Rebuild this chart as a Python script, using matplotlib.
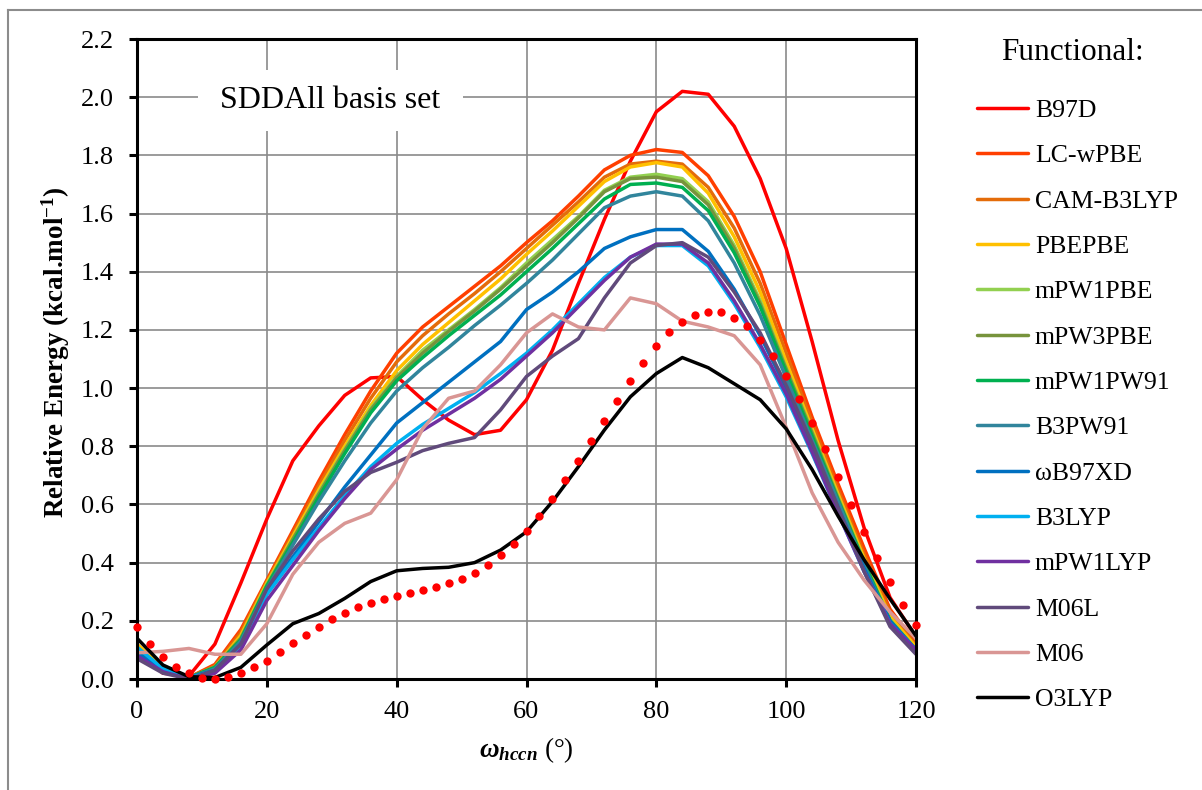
import matplotlib
matplotlib.use("Agg")
import matplotlib.pyplot as plt
from matplotlib.lines import Line2D
from matplotlib.patches import Rectangle
from matplotlib.ticker import MultipleLocator, FormatStrFormatter

plt.rcParams['font.family'] = ['Liberation Serif', 'DejaVu Serif']
plt.rcParams['mathtext.fontset'] = 'custom'
plt.rcParams['mathtext.rm'] = 'Liberation Serif:bold'
plt.rcParams['mathtext.it'] = 'Liberation Serif:italic:bold'
plt.rcParams['mathtext.bf'] = 'Liberation Serif:bold'

# dihedral angle (deg) for the functional curves
angles = list(range(0, 121, 4))
# angle grid of the dotted reference curve
ref_angles = list(range(0, 121, 2))

B97D = [0.09, 0.02, 0.01, 0.12, 0.33, 0.55, 0.75, 0.87, 0.975, 1.035, 1.04, 0.96, 0.89, 0.84, 0.855, 0.96,
        1.13, 1.36, 1.58, 1.78, 1.95, 2.02, 2.01, 1.90, 1.72, 1.48, 1.16, 0.82, 0.52, 0.28, 0.145]
LC_wPBE = [0.10, 0.03, 0.005, 0.05, 0.17, 0.34, 0.51, 0.68, 0.84, 0.99, 1.12, 1.21, 1.28, 1.35, 1.42, 1.50,
           1.575, 1.66, 1.75, 1.80, 1.82, 1.81, 1.73, 1.59, 1.40, 1.15, 0.90, 0.67, 0.45, 0.24, 0.12]
CAM_B3LYP = [0.10, 0.03, 0.005, 0.045, 0.16, 0.335, 0.50, 0.665, 0.82, 0.965, 1.09, 1.18, 1.255, 1.325, 1.40, 1.48,
             1.56, 1.64, 1.725, 1.77, 1.78, 1.77, 1.69, 1.55, 1.36, 1.12, 0.88, 0.65, 0.43, 0.23, 0.115]
PBEPBE = [0.12, 0.04, 0.005, 0.04, 0.15, 0.33, 0.49, 0.65, 0.80, 0.94, 1.06, 1.15, 1.225, 1.30, 1.375, 1.46,
          1.54, 1.625, 1.71, 1.76, 1.775, 1.76, 1.67, 1.52, 1.33, 1.09, 0.86, 0.635, 0.415, 0.215, 0.11]
mPW1PBE = [0.10, 0.035, 0.005, 0.04, 0.14, 0.325, 0.48, 0.64, 0.79, 0.93, 1.04, 1.13, 1.20, 1.27, 1.345, 1.43,
           1.51, 1.59, 1.68, 1.725, 1.735, 1.72, 1.64, 1.49, 1.30, 1.07, 0.85, 0.625, 0.405, 0.205, 0.10]
mPW3PBE = [0.10, 0.035, 0.005, 0.04, 0.14, 0.32, 0.48, 0.635, 0.785, 0.925, 1.035, 1.12, 1.195, 1.265, 1.34, 1.42,
           1.50, 1.585, 1.675, 1.72, 1.725, 1.71, 1.63, 1.48, 1.29, 1.065, 0.845, 0.62, 0.40, 0.20, 0.10]
mPW1PW91 = [0.10, 0.035, 0.005, 0.04, 0.135, 0.32, 0.47, 0.625, 0.775, 0.915, 1.025, 1.105, 1.18, 1.25, 1.32, 1.40,
            1.48, 1.565, 1.65, 1.70, 1.705, 1.69, 1.61, 1.465, 1.28, 1.055, 0.835, 0.615, 0.40, 0.20, 0.10]
B3PW91 = [0.10, 0.035, 0.005, 0.035, 0.13, 0.31, 0.46, 0.61, 0.75, 0.88, 0.99, 1.07, 1.14, 1.215, 1.285, 1.36,
          1.44, 1.53, 1.62, 1.66, 1.675, 1.66, 1.575, 1.43, 1.25, 1.035, 0.82, 0.61, 0.39, 0.195, 0.10]
wB97XD = [0.09, 0.03, 0.005, 0.03, 0.12, 0.30, 0.42, 0.54, 0.66, 0.77, 0.88, 0.95, 1.02, 1.09, 1.16, 1.27,
          1.33, 1.40, 1.48, 1.52, 1.545, 1.545, 1.47, 1.34, 1.18, 1.00, 0.80, 0.59, 0.38, 0.20, 0.10]
B3LYP = [0.11, 0.035, 0.005, 0.025, 0.11, 0.29, 0.41, 0.52, 0.63, 0.73, 0.81, 0.875, 0.93, 0.985, 1.05, 1.12,
         1.20, 1.29, 1.38, 1.45, 1.49, 1.49, 1.42, 1.29, 1.14, 0.97, 0.775, 0.57, 0.37, 0.19, 0.10]
mPW1LYP = [0.08, 0.025, 0.0, 0.02, 0.10, 0.27, 0.39, 0.51, 0.62, 0.72, 0.79, 0.855, 0.91, 0.965, 1.03, 1.11,
           1.19, 1.28, 1.37, 1.45, 1.495, 1.495, 1.43, 1.30, 1.15, 0.98, 0.78, 0.57, 0.37, 0.19, 0.10]
M06L = [0.07, 0.02, 0.0, 0.03, 0.12, 0.31, 0.44, 0.55, 0.645, 0.71, 0.745, 0.785, 0.81, 0.83, 0.925, 1.04,
        1.11, 1.17, 1.31, 1.43, 1.49, 1.50, 1.45, 1.33, 1.19, 1.01, 0.81, 0.59, 0.37, 0.18, 0.085]
M06 = [0.09, 0.095, 0.105, 0.085, 0.085, 0.19, 0.36, 0.47, 0.535, 0.57, 0.685, 0.86, 0.965, 0.99, 1.08, 1.19,
       1.255, 1.21, 1.20, 1.31, 1.29, 1.23, 1.21, 1.18, 1.08, 0.865, 0.64, 0.47, 0.34, 0.23, 0.14]
O3LYP = [0.14, 0.048, 0.008, 0.005, 0.04, 0.117, 0.19, 0.225, 0.277, 0.335, 0.372, 0.38, 0.384, 0.40, 0.443, 0.506,
         0.61, 0.73, 0.856, 0.97, 1.05, 1.105, 1.07, 1.015, 0.96, 0.86, 0.72, 0.56, 0.41, 0.275, 0.148]

# dotted red curve (no legend entry)
ref_curve = [0.18, 0.12, 0.077, 0.04, 0.02, 0.005, 0.0, 0.008, 0.02, 0.04, 0.063, 0.094, 0.123, 0.152, 0.18,
             0.207, 0.227, 0.246, 0.262, 0.275, 0.287, 0.295, 0.306, 0.316, 0.329, 0.345, 0.366, 0.391, 0.427,
             0.463, 0.51, 0.56, 0.618, 0.684, 0.749, 0.818, 0.888, 0.957, 1.023, 1.087, 1.144, 1.193, 1.228,
             1.252, 1.263, 1.261, 1.241, 1.212, 1.166, 1.109, 1.040, 0.963, 0.879, 0.789, 0.694, 0.599, 0.506,
             0.417, 0.334, 0.255, 0.186]

names = ['B97D', 'LC-wPBE', 'CAM-B3LYP', 'PBEPBE', 'mPW1PBE', 'mPW3PBE', 'mPW1PW91',
         'B3PW91', 'ωB97XD', 'B3LYP', 'mPW1LYP', 'M06L', 'M06', 'O3LYP']
series = [B97D, LC_wPBE, CAM_B3LYP, PBEPBE, mPW1PBE, mPW3PBE, mPW1PW91,
          B3PW91, wB97XD, B3LYP, mPW1LYP, M06L, M06, O3LYP]
colors = ['#FF0000', '#FF3F00', '#E46C0A', '#FFC000', '#92D050', '#77933C', '#00B050',
          '#31859C', '#0070C0', '#00B0F0', '#7030A0', '#604A7B', '#D99694', '#000000']

W, H = 1202, 790
fig = plt.figure(figsize=(W / 100, H / 100), dpi=100)
ax = fig.add_axes([137 / W, 1 - 679 / H, (916 - 137) / W, (679 - 39) / H])

handles = []
for name, vals, c in zip(names, series, colors):
    ln, = ax.plot(angles, vals, color=c, lw=2.5, label=name,
                  solid_capstyle='round', solid_joinstyle='round')
    handles.append(ln)

ax.plot(ref_angles, ref_curve, 'o', color='#FF0000', ms=6, mec='none', clip_on=False, zorder=5)

ax.set_xlim(0, 120)
ax.set_ylim(0, 2.2)
ax.xaxis.set_major_locator(MultipleLocator(20))
ax.yaxis.set_major_locator(MultipleLocator(0.2))
ax.yaxis.set_major_formatter(FormatStrFormatter('%.1f'))
ax.grid(True, color='#8a8a8a', lw=1.2)
ax.set_axisbelow(True)
for s in ax.spines.values():
    s.set_linewidth(2.2)
    s.set_color('black')
ax.tick_params(axis='both', direction='out', length=5.5, width=2.2, labelsize=19, color='black')
ax.tick_params(axis='x', pad=10.5)
ax.tick_params(axis='y', pad=11)

ax.set_ylabel('Relative Energy (kcal.mol$^{-1}$)', fontsize=19.5, fontweight='bold')
ax.yaxis.set_label_coords((72 - 137) / 779, 0.51)
ax.set_xlabel(r'$\omega_{hccn}$ (°)', fontsize=19.5)
ax.xaxis.set_label_coords(0.5, -0.088)

# label box
ax.add_patch(Rectangle((9.4, 1.885), 40.8, 0.21, facecolor='white', edgecolor='none', zorder=1))
ax.text(29.8, 1.99, 'SDDAll basis set', fontsize=23, ha='center', va='center', zorder=2)

fig.text(1072 / W, 1 - 52 / H, 'Functional:', fontsize=22.5, ha='center', va='center')
fig.legend(handles, names, loc='upper left', bbox_to_anchor=(977 / W, 1 - 99 / H),
           frameon=False, fontsize=18.5, handlelength=2.0, handletextpad=0.25,
           labelspacing=0.87, borderaxespad=0, borderpad=0)

# outer chart border
fig.add_artist(Line2D([8 / W, 8 / W], [0, 1 - 10 / H], transform=fig.transFigure, color='#8c8c8c', lw=1.5))
fig.add_artist(Line2D([8 / W, 1], [1 - 10 / H, 1 - 10 / H], transform=fig.transFigure, color='#8c8c8c', lw=1.5))

fig.savefig('out.png', dpi=100)
